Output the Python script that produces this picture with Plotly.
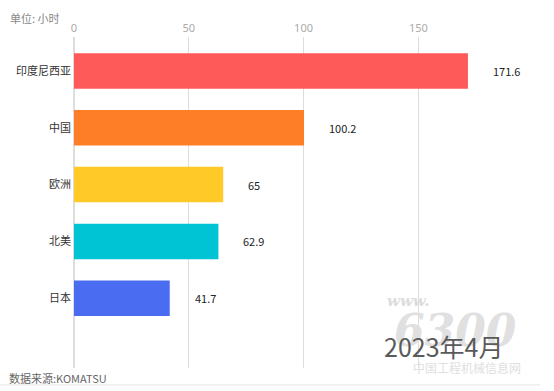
import plotly.graph_objects as go

categories = ["印度尼西亚", "中国", "欧洲", "北美", "日本"]
values = [171.6, 100.2, 65, 62.9, 41.7]
colors = ["#FF5A5A", "#FD7E27", "#FFCA28", "#00C4D4", "#4A6CF0"]
value_labels = ["171.6", "100.2", "65", "62.9", "41.7"]
x_ticks = [0, 50, 100, 150]

fig = go.Figure()
fig.add_trace(go.Bar(
    y=categories, x=values, orientation="h",
    marker=dict(color=colors, line=dict(width=0)),
    width=0.625, hoverinfo="skip",
))

for c, v, t in zip(categories, values, value_labels):
    fig.add_annotation(x=v, y=c, text=t, showarrow=False, xanchor="left",
                       xshift=23, font=dict(size=11, color="#222222",
                       family="Noto Sans CJK SC"))

font_cjk = "Noto Sans CJK SC"
# plot area: x 74..540 (466 px), y 37..368 (331 px)
def px(x):
    return (x - 74) / 466.0

def py(y):
    return (368 - y) / 331.0

fig.add_annotation(xref="paper", yref="paper", x=px(8), y=py(18), text="单位: 小时",
                   showarrow=False, xanchor="left", yanchor="middle",
                   font=dict(size=11, color="#888888", family=font_cjk))
fig.add_annotation(xref="paper", yref="paper", x=px(7), y=py(378), text="数据来源:KOMATSU",
                   showarrow=False, xanchor="left", yanchor="middle",
                   font=dict(size=11, color="#666666", family=font_cjk))
# watermark
fig.add_annotation(xref="paper", yref="paper", x=px(408), y=py(301), text="<i><b>www.</b></i>",
                   showarrow=False, xanchor="center", yanchor="middle",
                   font=dict(size=15, color="#DCDCDC", family="DejaVu Serif"))
fig.add_annotation(xref="paper", yref="paper", x=px(455), y=py(330), text="<i><b>6300</b></i>",
                   showarrow=False, xanchor="center", yanchor="middle",
                   font=dict(size=44, color="#E0E0E0", family="DejaVu Serif"))
fig.add_annotation(xref="paper", yref="paper", x=px(467), y=py(367), text="中国工程机械信息网",
                   showarrow=False, xanchor="center", yanchor="middle",
                   font=dict(size=12, color="#E0E0E0", family=font_cjk))
fig.add_annotation(xref="paper", yref="paper", x=px(443), y=py(346), text="2023年4月",
                   showarrow=False, xanchor="center", yanchor="middle",
                   font=dict(size=25, color="#5A5A5A", family=font_cjk))

fig.update_layout(
    width=554, height=391,
    margin=dict(l=74, r=14, t=37, b=23, autoexpand=False),
    plot_bgcolor="white", paper_bgcolor="white",
    showlegend=False,
    shapes=[dict(type="line", xref="paper", yref="paper", x0=px(0), x1=px(540),
                 y0=py(385), y1=py(385), line=dict(color="#E5E5E5", width=1))],
    xaxis=dict(side="top", range=[0, 203], tickvals=x_ticks,
               showgrid=True, gridcolor="#DDDDDD", gridwidth=1,
               zeroline=True, zerolinecolor="#DDDDDD", showline=False,
               ticks="", tickfont=dict(size=11, color="#AAAAAA", family="Noto Sans"),
               ticklabelstandoff=2, automargin=False),
    yaxis=dict(categoryorder="array", categoryarray=categories,
               range=[5.23, -0.6], showgrid=False, zeroline=False,
               ticks="", ticklabelstandoff=2, automargin=False,
               tickfont=dict(size=11, color="#333333", family=font_cjk)),
)

fig.write_html("out.html", config={"displayModeBar": False},
               post_script="document.body.style.margin='0';")
